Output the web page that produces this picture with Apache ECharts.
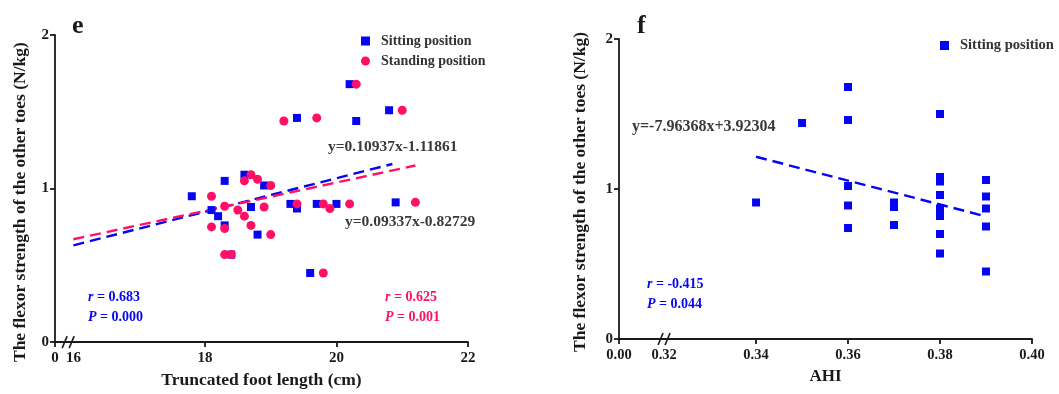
<!DOCTYPE html>
<html>
<head>
<meta charset="utf-8">
<script src="https://cdn.jsdelivr.net/npm/echarts@6/dist/echarts.min.js"></script>
<style>
  html, body { margin: 0; padding: 0; background: #fff; }
  #chart { width: 1059px; height: 394px; }
</style>
</head>
<body>
<div id="chart"></div>
<script>
// panel e: truncated foot length (cm) vs flexor strength (N/kg)
const sittingFoot = [
  [20.2, 1.68], [19.4, 1.46], [20.3, 1.44], [20.8, 1.51],
  [18.3, 1.05], [18.6, 1.09], [18.9, 1.02], [17.8, 0.95],
  [18.1, 0.86], [18.2, 0.82], [18.3, 0.76], [18.7, 0.88],
  [18.8, 0.70], [18.4, 0.57], [19.3, 0.90], [19.4, 0.87],
  [19.7, 0.90], [20.0, 0.90], [20.9, 0.91], [19.6, 0.45]
]
const standingFoot = [
  [20.3, 1.68], [19.2, 1.44], [19.7, 1.46], [21.0, 1.51],
  [18.7, 1.09], [18.6, 1.05], [18.8, 1.06], [19.0, 1.02],
  [18.1, 0.95], [18.3, 0.885], [18.5, 0.86], [18.6, 0.82],
  [18.7, 0.76], [18.1, 0.75], [18.3, 0.74], [19.0, 0.70],
  [18.9, 0.88], [18.3, 0.57], [18.4, 0.57], [19.4, 0.90],
  [19.8, 0.90], [19.9, 0.87], [20.2, 0.90], [21.2, 0.91],
  [19.8, 0.45]
]
// fitted lines, end points
const sittingFootFit = [[16, 0.63], [20.85, 1.16]]
const standingFootFit = [[16, 0.67], [21.2, 1.15]]

// panel f: AHI vs flexor strength (N/kg)
const sittingAhi = [
  [0.34, 0.91], [0.35, 1.44],
  [0.36, 1.68], [0.36, 1.46], [0.36, 1.02], [0.36, 0.89], [0.36, 0.74],
  [0.37, 0.91], [0.37, 0.88], [0.37, 0.76],
  [0.38, 1.50], [0.38, 1.08], [0.38, 1.05], [0.38, 0.96], [0.38, 0.87],
  [0.38, 0.85], [0.38, 0.82], [0.38, 0.70], [0.38, 0.57],
  [0.39, 1.06], [0.39, 0.95], [0.39, 0.87], [0.39, 0.75], [0.39, 0.45]
]
const sittingAhiFit = [[0.34, 1.215], [0.39, 0.817]]

const footTicks = [15.72, 18, 20, 22]
const footLabels = [15.72, 16, 18, 20, 22]
const ahiTicks = [0.3102, 0.34, 0.36, 0.38, 0.40]
const ahiLabels = [0.3102, 0.32, 0.34, 0.36, 0.38, 0.40]

const BLUE = '#0505f2'
const PINK = '#ff1067'
const INK = '#1a1a1a'
const FONT = '"Liberation Serif", "DejaVu Serif", serif'
const yName = 'The flexor strength of the other toes (N/kg)'

const axisLine = { show: true, lineStyle: { color: INK, width: 1.8 } }
const axisTick = { show: true, length: 5, lineStyle: { color: INK, width: 1.8 } }

function yAxis(grid, gap, pad) {
  return {
    type: 'value', gridIndex: grid, min: 0, max: 2, interval: 1,
    name: yName, nameLocation: 'middle', nameGap: gap, nameRotate: 90,
    nameTextStyle: { fontFamily: FONT, fontWeight: 'bold', fontSize: 17.5, color: INK, padding: [0, pad, 0, 0] },
    axisLine, axisTick, splitLine: { show: false },
    axisLabel: { fontFamily: FONT, fontWeight: 'bold', fontSize: 15, color: INK, margin: 6 },
  }
}

const chart = echarts.init(document.getElementById('chart'), null, { renderer: 'canvas' })

const dash = { type: [11, 6], width: 2.4 }
const legendText = { fontFamily: FONT, fontWeight: 'bold', fontSize: 14, color: '#333', padding: [0, 0, 0, 6] }

chart.setOption({
  animation: false,
  textStyle: { fontFamily: FONT },
  title: [
    { text: 'e', left: 67, top: 8, textStyle: { fontFamily: FONT, fontWeight: 'bold', fontSize: 26, color: INK } },
    { text: 'f', left: 632, top: 8, textStyle: { fontFamily: FONT, fontWeight: 'bold', fontSize: 26, color: INK } },
  ],
  legend: [
    {
      data: [{ name: 'Sitting position', icon: 'rect' }, { name: 'Standing position', icon: 'circle' }],
      orient: 'vertical', left: 356, top: 29, itemGap: 6, itemWidth: 9, itemHeight: 9,
      textStyle: legendText,
    },
    {
      data: [{ name: 'Sitting position ', icon: 'rect' }],
      orient: 'vertical', left: 935, top: 33, itemWidth: 9, itemHeight: 9,
      textStyle: Object.assign({}, legendText, { fontSize: 14.5 }),
    },
  ],
  grid: [
    { left: 55, top: 35, width: 413, height: 311 },
    { left: 619, top: 39, width: 413, height: 300 },
  ],
  xAxis: [
    {
      type: 'value', gridIndex: 0, min: 15.72, max: 22,
      name: 'Truncated foot length (cm)', nameLocation: 'middle', nameGap: 25,
      nameTextStyle: { fontFamily: FONT, fontWeight: 'bold', fontSize: 17.5, color: INK },
      axisLine, splitLine: { show: false },
      axisTick: Object.assign({}, axisTick, { customValues: footTicks }),
      axisLabel: {
        fontFamily: FONT, fontWeight: 'bold', fontSize: 15, color: INK, margin: 9,
        customValues: footLabels,
        formatter: v => (v < 15.9 ? '0' : String(v)),
      },
    },
    {
      type: 'value', gridIndex: 1, min: 0.3102, max: 0.40,
      name: 'AHI', nameLocation: 'middle', nameGap: 29,
      nameTextStyle: { fontFamily: FONT, fontWeight: 'bold', fontSize: 17, color: INK },
      axisLine, splitLine: { show: false },
      axisTick: Object.assign({}, axisTick, { customValues: ahiTicks }),
      axisLabel: {
        fontFamily: FONT, fontWeight: 'bold', fontSize: 14.5, color: INK, margin: 9,
        customValues: ahiLabels,
        formatter: v => (v < 0.315 ? '0.00' : v.toFixed(2)),
      },
    },
  ],
  yAxis: [yAxis(0, 26, 27), yAxis(1, 30, 6)],
  series: [
    {
      type: 'line', name: 'fit sitting e', xAxisIndex: 0, yAxisIndex: 0,
      data: sittingFootFit, symbol: 'none', lineStyle: Object.assign({ color: BLUE }, dash), z: 1,
    },
    {
      type: 'line', name: 'fit standing e', xAxisIndex: 0, yAxisIndex: 0,
      data: standingFootFit, symbol: 'none', lineStyle: Object.assign({ color: PINK }, dash), z: 1,
    },
    {
      type: 'scatter', name: 'Sitting position', xAxisIndex: 0, yAxisIndex: 0,
      data: sittingFoot, symbol: 'rect', symbolSize: 8, itemStyle: { color: BLUE, opacity: 1 }, z: 2,
    },
    {
      type: 'scatter', name: 'Standing position', xAxisIndex: 0, yAxisIndex: 0,
      data: standingFoot, symbol: 'circle', symbolSize: 9, itemStyle: { color: PINK, opacity: 1 }, z: 3,
    },
    {
      type: 'line', name: 'fit sitting f', xAxisIndex: 1, yAxisIndex: 1,
      data: sittingAhiFit, symbol: 'none', lineStyle: Object.assign({ color: BLUE }, dash), z: 1,
    },
    {
      type: 'scatter', name: 'Sitting position ', xAxisIndex: 1, yAxisIndex: 1,
      data: sittingAhi, symbol: 'rect', symbolSize: 8, itemStyle: { color: BLUE, opacity: 1 }, z: 2,
    },
  ],
})

// axis break marks and the text notes
function breakMark(grid, xv) {
  const p = chart.convertToPixel({ gridIndex: grid }, [xv, 0])
  return {
    type: 'group', x: p[0], y: p[1], z: 100,
    children: [
      { type: 'rect', shape: { x: -4, y: -2, width: 9, height: 4 }, style: { fill: '#fff' } },
      { type: 'line', shape: { x1: -6, y1: 6, x2: -1, y2: -6 }, style: { stroke: INK, lineWidth: 1.6 } },
      { type: 'line', shape: { x1: 1, y1: 6, x2: 6, y2: -6 }, style: { stroke: INK, lineWidth: 1.6 } },
    ],
  }
}

function note(x, y, text, color, size, rich) {
  return {
    type: 'text', x, y, z: 100,
    style: {
      text, fill: color, font: 'bold ' + size + 'px ' + FONT,
      rich: rich ? {
        i: { fontStyle: 'italic', fontWeight: 'bold', fontSize: size, fontFamily: FONT, fill: color },
      } : undefined,
    },
  }
}

chart.setOption({
  graphic: [
    breakMark(0, 15.92),
    breakMark(1, 0.32),
    note(328, 139, 'y=0.10937x-1.11861', '#3a3a3a', 15.5),
    note(345, 214, 'y=0.09337x-0.82729', '#3a3a3a', 15.5),
    note(88, 290, '{i|r} = 0.683', BLUE, 14, true),
    note(88, 310, '{i|P} = 0.000', BLUE, 14, true),
    note(385, 290, '{i|r} = 0.625', PINK, 14, true),
    note(385, 310, '{i|P} = 0.001', PINK, 14, true),
    note(632, 119, 'y=-7.96368x+3.92304', '#3a3a3a', 16),
    note(647, 277, '{i|r} = -0.415', BLUE, 14, true),
    note(647, 297, '{i|P} = 0.044', BLUE, 14, true),
  ],
})
</script>
</body>
</html>
